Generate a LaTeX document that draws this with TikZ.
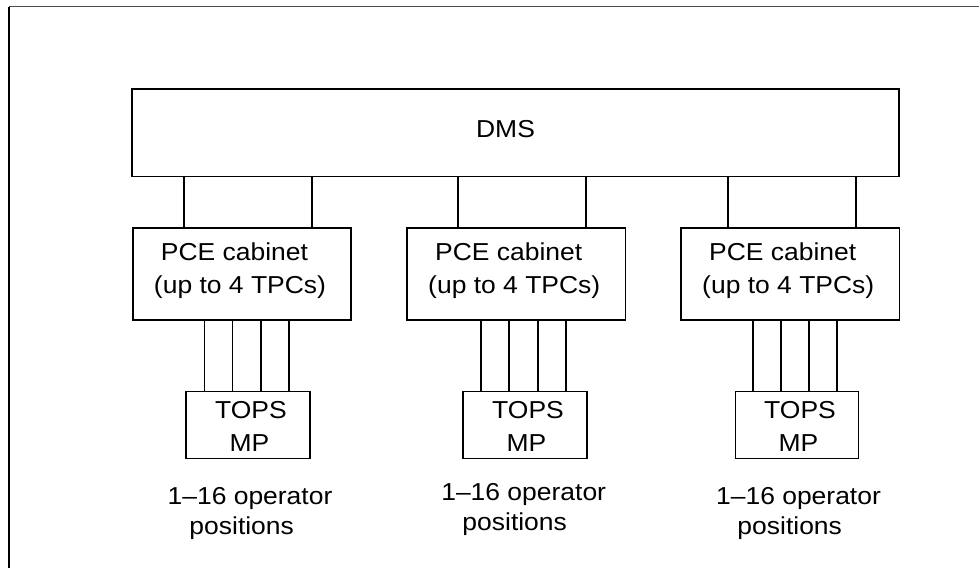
\documentclass[tikz,border=0pt]{standalone}
\usepackage{fontspec}
\setmainfont{Liberation Sans}[FakeStretch=1.08]
\begin{document}
\begin{tikzpicture}[x=1pt,y=-1pt,
  box/.style={draw, line width=1.8pt, rectangle, inner sep=0pt},
  wire/.style={line width=1.8pt},
  lbl/.style={anchor=base, inner sep=0pt, font=\fontsize{24.5}{30}\selectfont}]
\useasboundingbox (0,0) rectangle (979,568);
% frame
\coordinate (ftl) at (9,6.5);
\coordinate (ftr) at (979,6.5);
\coordinate (fbl) at (9,568);
\draw[gray!60!black, line width=1.5pt] (ftl) -- (ftr);
\draw[black, line width=1.3pt] (ftl) -- (fbl);
% boxes
\node[box, minimum width=767pt, minimum height=87.5pt] (dms) at (515.5,132.75) {};
\node[box, minimum width=218.5pt, minimum height=92pt] (pce1) at (242,274) {};
\node[box, minimum width=218.5pt, minimum height=92pt] (pce2) at (516.25,274) {};
\node[box, minimum width=218.5pt, minimum height=92pt] (pce3) at (790.25,274) {};
\node[box, minimum width=124pt, minimum height=67pt] (tops1) at (248,425) {};
\node[box, minimum width=124pt, minimum height=67pt] (tops2) at (525,425) {};
\node[box, minimum width=123pt, minimum height=67pt] (tops3) at (797,425) {};
% DMS to PCE
\foreach \x/\p in {184/pce1,312/pce1,458/pce2,586/pce2,728/pce3,856/pce3}
  \draw[wire] (\x,0 |- dms.south) -- (\x,0 |- \p.north);
% PCE to TOPS
\foreach \x/\p/\t in {204.5/pce1/tops1,232.5/pce1/tops1,261/pce1/tops1,289/pce1/tops1,
                      481/pce2/tops2,509/pce2/tops2,538/pce2/tops2,566/pce2/tops2,
                      752.7/pce3/tops3,780.7/pce3/tops3,808.7/pce3/tops3,836.7/pce3/tops3}
  \draw[wire] (\x,0 |- \p.south) -- (\x,0 |- \t.north);
% texts
\node[lbl] (dmst) at (505.5,137.7) {DMS};
\node[lbl] (p1a) at (234.5,260.7) {PCE cabinet};
\node[lbl] (p1b) at (240,293.3) {(up to 4 TPCs)};
\node[lbl] (p2a) at (508.75,260.7) {PCE cabinet};
\node[lbl] (p2b) at (514.25,293.3) {(up to 4 TPCs)};
\node[lbl] (p3a) at (782.75,260.7) {PCE cabinet};
\node[lbl] (p3b) at (788.25,293.3) {(up to 4 TPCs)};
\node[lbl] (t1a) at (251,418.7) {TOPS};
\node[lbl] (t1b) at (249.5,451) {MP};
\node[lbl] (t2a) at (528,418.7) {TOPS};
\node[lbl] (t2b) at (526.5,451) {MP};
\node[lbl] (t3a) at (800,418.7) {TOPS};
\node[lbl] (t3b) at (798.5,451) {MP};
\node[lbl] (o1a) at (250,504.5) {1–16 operator};
\node[lbl] (o1b) at (241.7,534.5) {positions};
\node[lbl] (o2a) at (523.7,500.7) {1–16 operator};
\node[lbl] (o2b) at (514.7,530.7) {positions};
\node[lbl] (o3a) at (798.5,504.5) {1–16 operator};
\node[lbl] (o3b) at (789.7,534.5) {positions};
\end{tikzpicture}
\end{document}
